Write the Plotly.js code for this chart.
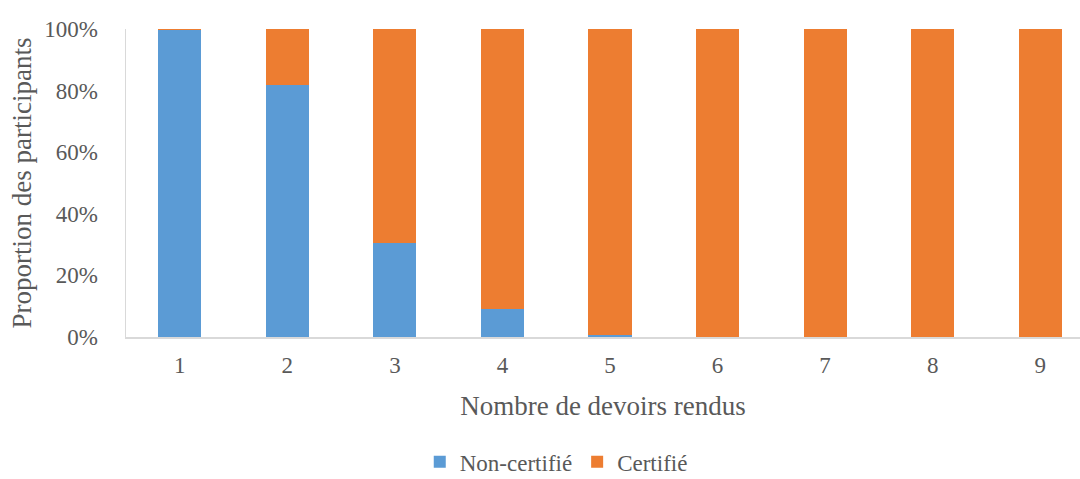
<!DOCTYPE html>
<html>
<head>
<meta charset="utf-8">
<script src="https://cdn.plot.ly/plotly-3.0.1.min.js"></script>
<style>html,body{margin:0;padding:0;background:#fff}#chart{width:1080px;height:479px}</style>
</head>
<body>
<div id="chart"></div>
<script>
const categories = [1, 2, 3, 4, 5, 6, 7, 8, 9];
const nonCertifie = [0.997, 0.818, 0.306, 0.090, 0.006, 0, 0, 0, 0];
const certifie = [0.003, 0.182, 0.694, 0.910, 0.994, 1, 1, 1, 1];
const seriesNames = ["Non-certifié", "Certifié"];

const fontFam = '"Liberation Serif", "Times New Roman", serif';
const traces = [
  {type: 'bar', x: categories, y: nonCertifie, name: seriesNames[0],
   marker: {color: '#5B9BD5'}, hoverinfo: 'skip'},
  {type: 'bar', x: categories, y: certifie, name: seriesNames[1],
   marker: {color: '#ED7D31'}, hoverinfo: 'skip'}
];
const layout = {
  width: 1080, height: 479,
  barmode: 'stack', bargap: 0.6,
  margin: {l: 126, r: 0, t: 29, b: 142, autoexpand: false},
  paper_bgcolor: '#fff', plot_bgcolor: '#fff',
  font: {family: fontFam, color: '#595959', size: 23},
  xaxis: {
    range: [0.5, 9.37], tickvals: categories, ticktext: categories.map(String),
    showgrid: false, zeroline: false, showline: true, linecolor: '#d9d9d9', linewidth: 1.5,
    ticks: '', ticklabelstandoff: 7, automargin: false,
    tickfont: {family: fontFam, size: 23, color: '#595959'},
    title: {text: 'Nombre de devoirs rendus', font: {family: fontFam, size: 27, color: '#595959'}, standoff: 19}
  },
  yaxis: {
    range: [0, 1], tickvals: [0, 0.2, 0.4, 0.6, 0.8, 1], tickformat: '.0%',
    showgrid: false, zeroline: false, showline: true, linecolor: '#d9d9d9', linewidth: 1.5,
    ticks: '', ticklabelstandoff: 22, automargin: false,
    tickfont: {family: fontFam, size: 23, color: '#595959'},
    title: {text: 'Proportion des participants', font: {family: fontFam, size: 27, color: '#595959'}, standoff: 5}
  },
  showlegend: true,
  legend: {orientation: 'h', x: 0.451, xanchor: 'center', yref: 'container', y: 0.036, yanchor: 'middle',
           font: {family: fontFam, size: 23, color: '#595959'}, traceorder: 'normal'}
};
Plotly.newPlot('chart', traces, layout, {displayModeBar: false, staticPlot: true});
</script>
</body>
</html>
